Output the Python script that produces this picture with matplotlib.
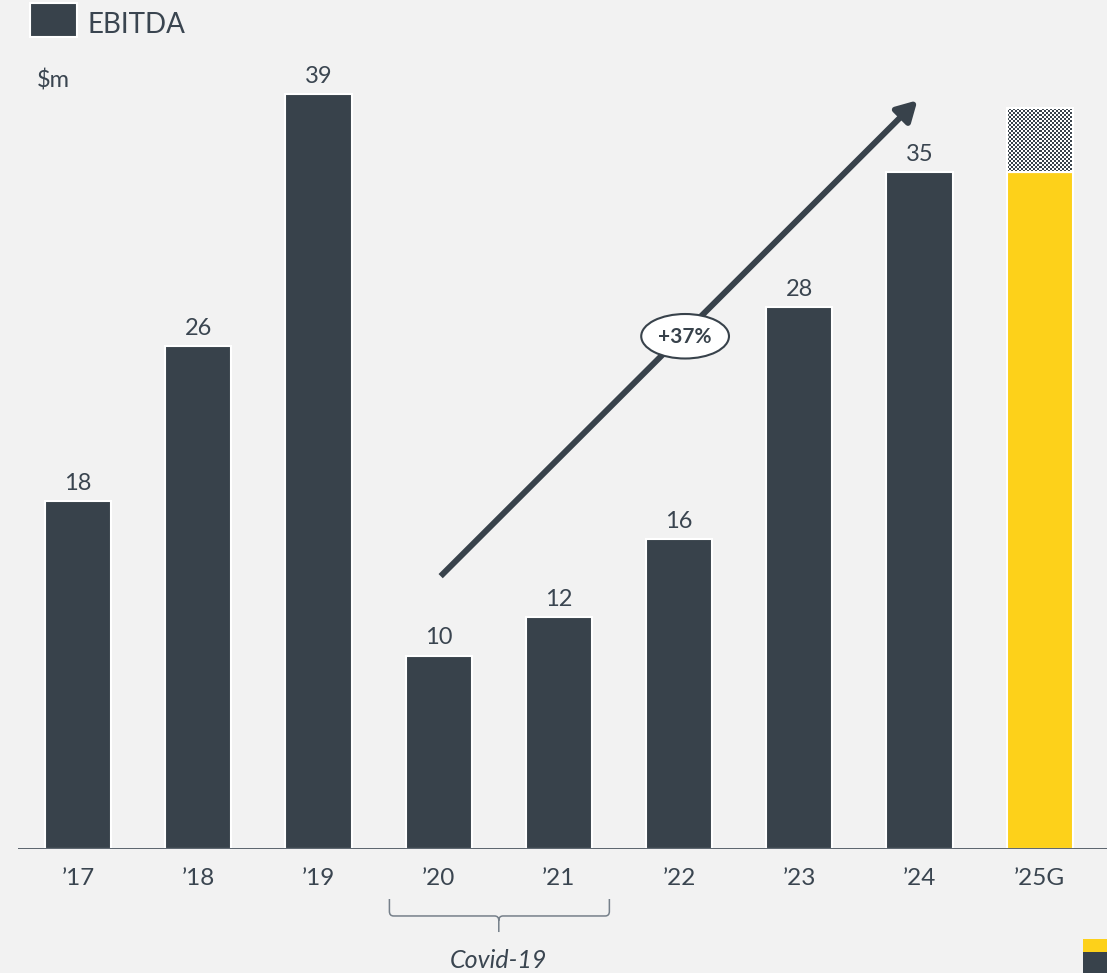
import numpy as np
import matplotlib
matplotlib.use("Agg")
import matplotlib.pyplot as plt
from matplotlib.patches import Rectangle, Ellipse, FancyArrowPatch
from matplotlib.path import Path
from matplotlib.patches import PathPatch
from matplotlib.colors import ListedColormap
import matplotlib.transforms as mtransforms

# EBITDA history ($m) and 2025 guidance
years = ["’17", "’18", "’19", "’20", "’21", "’22", "’23", "’24", "’25G"]
ebitda = [18, 26, 39, 10, 12, 16, 28, 35]
guidance_low = 35.0
guidance_high = 38.3
cagr_label = "+37%"
covid_years = ["’20", "’21"]

DARK = "#38424b"
YELLOW = "#fdd11a"
BG = "#f2f2f2"
TEXT = "#3a4550"
FONT = ["Lato", "DejaVu Sans"]

plt.rcParams["font.family"] = FONT

W, H = 1107, 973
fig = plt.figure(figsize=(W / 100, H / 100), dpi=100, facecolor=BG)
ax = fig.add_axes([18 / W, 124 / H, (W - 18) / W, 832 / H])
ax.set_facecolor(BG)
ax.axis("off")

bar_w = 0.55
x = np.arange(len(years))

# historical bars
ax.bar(x[:len(ebitda)], ebitda, width=bar_w, color=DARK, edgecolor="white",
       linewidth=1.5, zorder=2)
for xi, v in zip(x, ebitda):
    ax.annotate(f"{v}", xy=(xi, v), xytext=(0, 8), textcoords="offset points",
                ha="center", va="baseline", fontsize=17, color=TEXT)

# guidance bar: solid base plus checkered range
gx = x[-1]
ax.bar(gx, guidance_low, width=bar_w, color=YELLOW, edgecolor="white",
       linewidth=1.5, zorder=2)
rng = ax.bar(gx, guidance_high - guidance_low, bottom=guidance_low, width=bar_w,
             color=DARK, edgecolor="white", linewidth=1.5, zorder=2)[0]
px_w = bar_w * 120.2
px_h = (guidance_high - guidance_low) * 19.36
nr, nc = int(round(px_h / 2)), int(round(px_w / 2))
checker = np.indices((nr, nc)).sum(axis=0) % 2
img = ax.imshow(checker, cmap=ListedColormap(["white", DARK]), interpolation="nearest",
                extent=(gx - bar_w / 2, gx + bar_w / 2, guidance_low, guidance_high),
                aspect="auto", zorder=2.5)
img.set_clip_path(rng)
ax.add_patch(Rectangle((gx - bar_w / 2, guidance_low), bar_w, guidance_high - guidance_low,
                       facecolor="none", edgecolor="white", linewidth=1.5, zorder=2.6))
ax.set_xlim(-0.5, 8.56)
ax.set_ylim(0, 43)

# baseline
ax.axhline(0, color="#4d5761", linewidth=2, zorder=3)

# category labels
for xi, lab in zip(x, years):
    ax.annotate(lab, xy=(xi, 0), xytext=(0, -26), textcoords="offset points",
                ha="center", va="baseline", fontsize=17.5, color=TEXT,
                annotation_clip=False)

# growth arrow with CAGR badge
arrow = FancyArrowPatch((3.0, 14.0), (7.0, 38.8),
                        arrowstyle="-|>,head_length=0.75,head_width=0.42",
                        mutation_scale=16, color=DARK, linewidth=4.3,
                        capstyle="butt", zorder=4)
ax.add_patch(arrow)
ax.add_patch(Ellipse((5.05, 26.5), 0.73, 2.3, facecolor="white", edgecolor=DARK,
                     linewidth=1.5, zorder=5))
ax.text(5.05, 26.45, cagr_label, ha="center", va="center", fontsize=15,
        fontweight="bold", color=DARK, zorder=6)

# brace grouping the Covid years
i0, i1 = years.index(covid_years[0]), years.index(covid_years[1])
x0, x1 = i0 - 0.41, i1 + 0.42
xc = (i0 + i1) / 2
ya, yh, yt = -0.0601, -0.0805, -0.0998
rx, ry = 0.035, 0.0055
verts = [(x0, ya), (x0, yh + ry), (x0, yh), (x0 + rx, yh), (xc - rx, yh), (xc, yh), (xc, yh - ry),
         (xc, yt),
         (x1, ya), (x1, yh + ry), (x1, yh), (x1 - rx, yh), (xc + rx, yh), (xc, yh), (xc, yh - ry)]
codes = [Path.MOVETO, Path.LINETO, Path.CURVE3, Path.CURVE3, Path.LINETO, Path.CURVE3, Path.CURVE3,
         Path.LINETO,
         Path.MOVETO, Path.LINETO, Path.CURVE3, Path.CURVE3, Path.LINETO, Path.CURVE3, Path.CURVE3]
blend = mtransforms.blended_transform_factory(ax.transData, ax.transAxes)
ax.add_patch(PathPatch(Path(verts, codes), facecolor="none", edgecolor="#76808a",
                       linewidth=1.1, transform=blend, clip_on=False))
ax.text(xc, -0.143, "Covid-19", transform=blend, ha="center", va="baseline",
        fontsize=18, style="italic", color=TEXT, clip_on=False)

# legend and unit
fig.patches.append(Rectangle((30 / W, (H - 37) / H), 47 / W, 34 / H, transform=fig.transFigure,
                             facecolor=DARK, edgecolor="white", linewidth=1.5))
fig.text(88 / W, (H - 33) / H, "EBITDA", ha="left", va="baseline", fontsize=20, color=TEXT)
fig.text(37 / W, (H - 88) / H, "$m", ha="left", va="baseline", fontsize=17, color=TEXT)

# corner mark
fig.patches.append(Rectangle((1083 / W, (H - 952) / H), 24 / W, 13 / H,
                             transform=fig.transFigure, facecolor=YELLOW, edgecolor="none"))
fig.patches.append(Rectangle((1083 / W, 0), 24 / W, 21 / H,
                             transform=fig.transFigure, facecolor=DARK, edgecolor="none"))

fig.savefig("out.png", dpi=100, facecolor=BG)
